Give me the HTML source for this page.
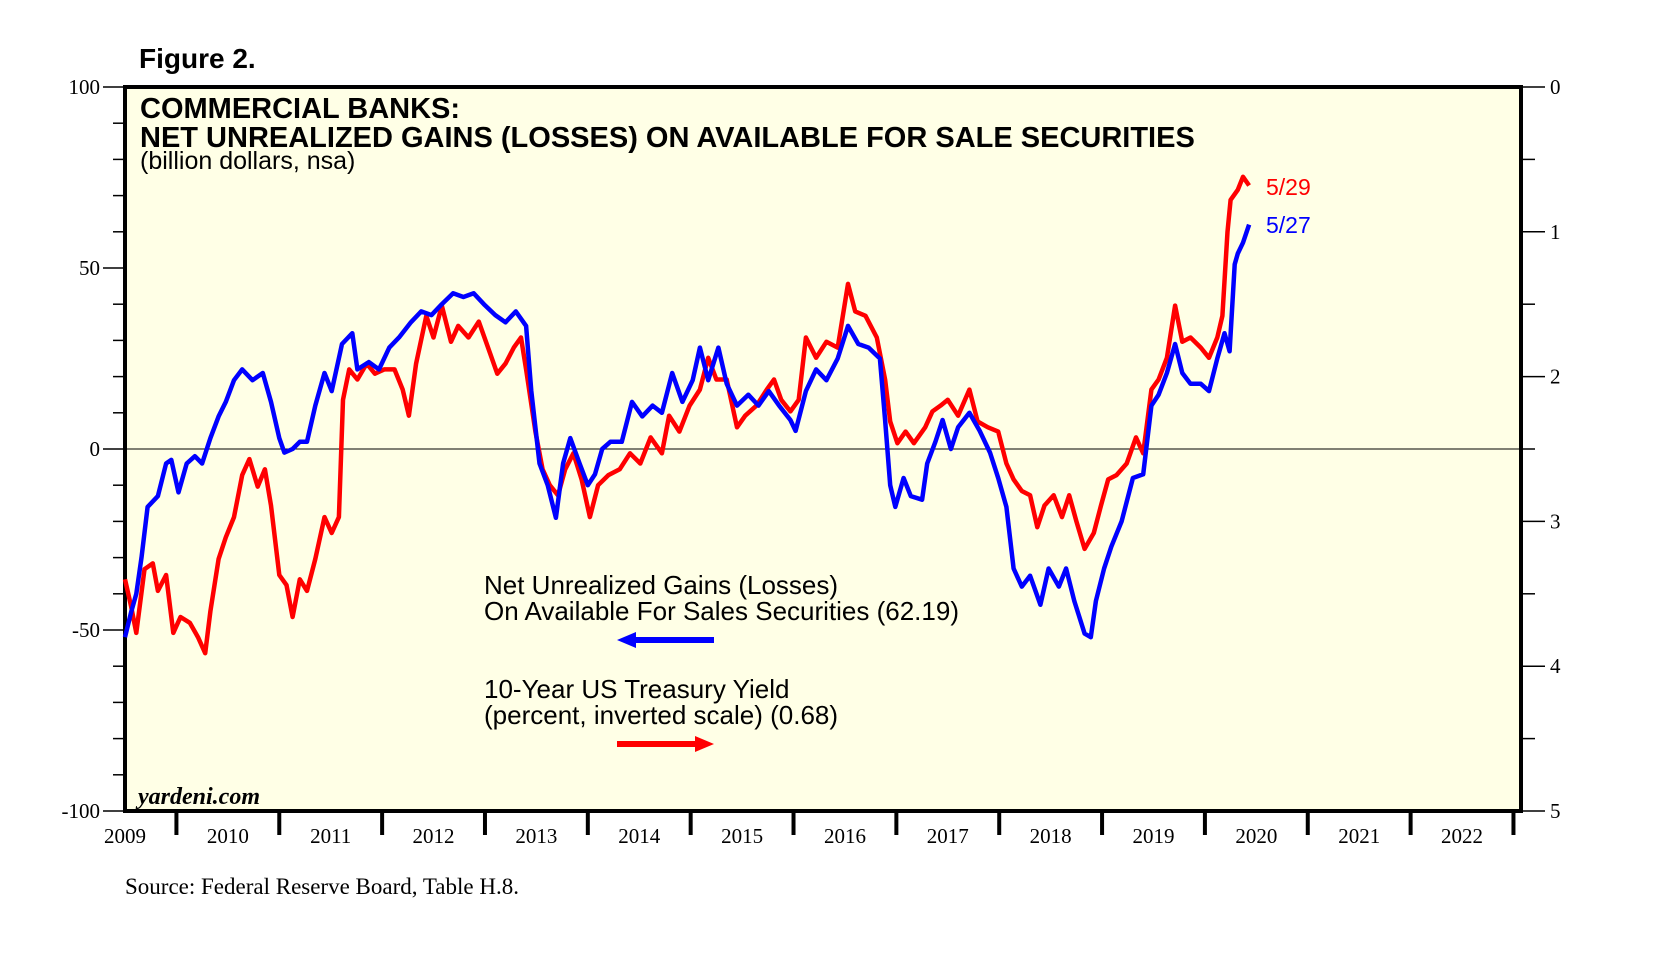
<!DOCTYPE html>
<html><head><meta charset="utf-8"><style>
html,body{margin:0;padding:0;background:#fff;}
svg{display:block;}
</style></head><body>
<svg id="chart" width="1654" height="960" xmlns="http://www.w3.org/2000/svg">
<text x="139" y="68" font-family="Liberation Sans, sans-serif" font-weight="bold" font-size="28">Figure 2.</text>
<rect x="125" y="87" width="1396" height="724" fill="#ffffe6" stroke="#000" stroke-width="4"/>
<g id="grid"></g>
<g id="axes"></g>
<g id="series"></g>
<text x="140" y="118" font-family="Liberation Sans, sans-serif" font-weight="bold" font-size="29">COMMERCIAL BANKS:</text>
<text x="140" y="147" font-family="Liberation Sans, sans-serif" font-weight="bold" font-size="29">NET UNREALIZED GAINS (LOSSES) ON AVAILABLE FOR SALE SECURITIES</text>
<text x="140" y="169" font-family="Liberation Sans, sans-serif" font-size="25">(billion dollars, nsa)</text>
<g>
<text x="484" y="594" font-family="Liberation Sans, sans-serif" font-size="26">Net Unrealized Gains (Losses)</text>
<text x="484" y="620" font-family="Liberation Sans, sans-serif" font-size="26">On Available For Sales Securities (62.19)</text>
<line x1="632" y1="640" x2="714" y2="640" stroke="#00f" stroke-width="6"/>
<polygon points="617,640 636,632 636,648" fill="#00f"/>
</g>
<g>
<text x="484" y="698" font-family="Liberation Sans, sans-serif" font-size="26">10-Year US Treasury Yield</text>
<text x="484" y="724" font-family="Liberation Sans, sans-serif" font-size="26">(percent, inverted scale) (0.68)</text>
<line x1="617" y1="744" x2="699" y2="744" stroke="#f00" stroke-width="6"/>
<polygon points="714,744 695,736 695,752" fill="#f00"/>
</g>
<text x="1266" y="195" fill="#f00" font-family="Liberation Sans, sans-serif" font-size="23">5/29</text>
<text x="1266" y="233" fill="#00f" font-family="Liberation Sans, sans-serif" font-size="23">5/27</text>
<text x="138" y="804" font-family="Liberation Serif, serif" font-weight="bold" font-style="italic" font-size="24">yardeni.com</text>
<text x="125" y="894" font-family="Liberation Serif, serif" font-size="23">Source: Federal Reserve Board, Table H.8.</text>
</svg>
<script>
const blueYears=[2009.50,2009.56,2009.61,2009.66,2009.72,2009.82,2009.90,2009.95,2010.02,2010.10,2010.18,2010.25,2010.33,2010.41,2010.48,2010.56,2010.64,2010.74,2010.84,2010.92,2011.00,2011.05,2011.13,2011.20,2011.27,2011.35,2011.44,2011.51,2011.61,2011.71,2011.76,2011.87,2011.97,2012.07,2012.17,2012.28,2012.38,2012.48,2012.58,2012.69,2012.79,2012.89,2012.99,2013.10,2013.20,2013.30,2013.40,2013.45,2013.53,2013.61,2013.69,2013.76,2013.83,2013.92,2014.00,2014.07,2014.14,2014.22,2014.33,2014.43,2014.53,2014.63,2014.72,2014.82,2014.92,2015.02,2015.09,2015.17,2015.27,2015.35,2015.45,2015.56,2015.66,2015.76,2015.86,2015.97,2016.02,2016.12,2016.22,2016.32,2016.43,2016.53,2016.63,2016.73,2016.84,2016.89,2016.94,2016.99,2017.07,2017.14,2017.25,2017.30,2017.38,2017.45,2017.53,2017.60,2017.71,2017.81,2017.91,2017.99,2018.07,2018.14,2018.22,2018.30,2018.40,2018.48,2018.58,2018.65,2018.73,2018.83,2018.89,2018.94,2019.02,2019.09,2019.19,2019.30,2019.40,2019.48,2019.55,2019.63,2019.71,2019.78,2019.86,2019.96,2020.04,2020.12,2020.19,2020.24,2020.29,2020.32,2020.37,2020.43];
const blueValues=[-52,-45,-40,-30,-16,-13,-4,-3,-12,-4,-2,-4,3,9,13,19,22,19,21,13,3,-1,0,2,2,12,21,16,29,32,22,24,22,28,31,35,38,37,40,43,42,43,40,37,35,38,34,16,-4,-10,-19,-4,3,-4,-10,-7,0,2,2,13,9,12,10,21,13,19,28,19,28,18,12,15,12,16,12,8,5,16,22,19,25,34,29,28,25,8,-10,-16,-8,-13,-14,-4,2,8,0,6,10,5,-1,-8,-16,-33,-38,-35,-43,-33,-38,-33,-42,-51,-52,-42,-33,-27,-20,-8,-7,12,15,21,29,21,18,18,16,25,32,27,51,54,57,62];
const redYears=[2009.50,2009.56,2009.61,2009.69,2009.77,2009.82,2009.90,2009.97,2010.04,2010.13,2010.21,2010.28,2010.33,2010.41,2010.48,2010.56,2010.64,2010.71,2010.79,2010.86,2010.92,2011.00,2011.07,2011.13,2011.20,2011.27,2011.35,2011.44,2011.51,2011.58,2011.62,2011.68,2011.76,2011.85,2011.93,2012.02,2012.12,2012.20,2012.26,2012.33,2012.43,2012.50,2012.58,2012.67,2012.74,2012.84,2012.94,2013.05,2013.12,2013.20,2013.28,2013.35,2013.40,2013.49,2013.56,2013.63,2013.71,2013.78,2013.86,2013.94,2014.02,2014.10,2014.20,2014.31,2014.41,2014.51,2014.61,2014.72,2014.79,2014.89,2014.99,2015.09,2015.17,2015.25,2015.35,2015.45,2015.53,2015.64,2015.74,2015.81,2015.88,2015.97,2016.05,2016.12,2016.22,2016.32,2016.43,2016.53,2016.60,2016.70,2016.81,2016.89,2016.94,2017.01,2017.09,2017.17,2017.28,2017.35,2017.43,2017.50,2017.60,2017.71,2017.79,2017.89,2017.99,2018.07,2018.14,2018.22,2018.30,2018.37,2018.44,2018.53,2018.61,2018.68,2018.75,2018.83,2018.92,2018.99,2019.06,2019.14,2019.24,2019.33,2019.40,2019.48,2019.55,2019.63,2019.71,2019.78,2019.86,2019.96,2020.04,2020.12,2020.17,2020.22,2020.25,2020.32,2020.37,2020.43];
const redValues=[3.40,3.59,3.77,3.33,3.29,3.48,3.37,3.77,3.66,3.70,3.80,3.91,3.62,3.26,3.11,2.97,2.68,2.57,2.76,2.64,2.89,3.37,3.44,3.66,3.40,3.48,3.26,2.97,3.08,2.97,2.16,1.95,2.02,1.91,1.98,1.95,1.95,2.09,2.27,1.91,1.58,1.73,1.51,1.76,1.65,1.73,1.62,1.84,1.98,1.91,1.80,1.73,1.95,2.38,2.64,2.75,2.82,2.64,2.53,2.71,2.97,2.75,2.68,2.64,2.53,2.60,2.42,2.53,2.27,2.38,2.20,2.09,1.87,2.02,2.02,2.35,2.27,2.20,2.09,2.02,2.16,2.24,2.16,1.73,1.87,1.76,1.80,1.36,1.55,1.58,1.73,2.02,2.31,2.46,2.38,2.46,2.35,2.24,2.20,2.16,2.27,2.09,2.31,2.35,2.38,2.60,2.71,2.79,2.82,3.04,2.89,2.82,2.97,2.82,3.00,3.19,3.08,2.89,2.71,2.68,2.60,2.42,2.53,2.09,2.02,1.87,1.51,1.76,1.73,1.80,1.87,1.73,1.58,1.00,0.78,0.71,0.62,0.68];
const leftTicks=[100,50,0,-50,-100];
const rightTicks=[0,1,2,3,4,5];
const yearLabels=[2009,2010,2011,2012,2013,2014,2015,2016,2017,2018,2019,2020,2021,2022];

const NS='http://www.w3.org/2000/svg';
const L=125,R=1521,T=87,B=811;
const X0=2009.5,X1=2023.0733;
function xs(t){return L+(t-X0)/(X1-X0)*(R-L);}
function yl(v){return T+(100-v)/200*(B-T);}
function yr(v){return T+v/5*(B-T);}
function mk(tag,attrs,parent){const e=document.createElementNS(NS,tag);for(const k in attrs)e.setAttribute(k,attrs[k]);parent.appendChild(e);return e;}
const axes=document.getElementById('axes'),grid=document.getElementById('grid'),ser=document.getElementById('series');

const zl=mk('line',{x1:L,x2:R,y1:yl(0),y2:yl(0),stroke:'#000','stroke-width':1},grid);



for(let v=-100;v<=100;v+=10){
  const major=leftTicks.includes(v);
  const t=mk('line',{x1:major?103:113,x2:L,y1:yl(v),y2:yl(v),stroke:'#000','stroke-width':1.5},axes);
  
  
}
leftTicks.forEach(v=>{
  const t=mk('text',{x:100,y:yl(v)+7,'text-anchor':'end','font-family':'Liberation Serif, serif','font-size':21},axes);
  t.textContent=v;
  
  
});
for(let v=0;v<=5;v+=0.5){
  const major=Number.isInteger(v);
  const t=mk('line',{x1:R,x2:major?1545:1535,y1:yr(v),y2:yr(v),stroke:'#000','stroke-width':1.5},axes);
  
  
}
rightTicks.forEach(v=>{
  const t=mk('text',{x:1550,y:yr(v)+7,'font-family':'Liberation Serif, serif','font-size':21},axes);
  t.textContent=v;
  
  
});
yearLabels.forEach(y=>{
  const b=y+1;
  if(xs(b)<R-2){
    const t=mk('line',{x1:xs(b),x2:xs(b),y1:B,y2:B+24,stroke:'#000','stroke-width':4},axes);
    
    
  }
  const lb=mk('text',{x:xs(y+0.5),y:B+32,'text-anchor':'middle','font-family':'Liberation Serif, serif','font-size':21},axes);
  lb.textContent=y;
  
  
});

function path(xsArr,ysArr,fy){return xsArr.map((t,i)=>(i?'L':'M')+xs(t).toFixed(1)+','+fy(ysArr[i]).toFixed(1)).join('');}
const red=mk('path',{d:path(redYears,redValues,yr),fill:'none',stroke:'#f00','stroke-width':4.5,'stroke-linejoin':'round'},ser);


const blue=mk('path',{d:path(blueYears,blueValues,yl),fill:'none',stroke:'#00f','stroke-width':4.5,'stroke-linejoin':'round'},ser);


</script>
</body></html>
